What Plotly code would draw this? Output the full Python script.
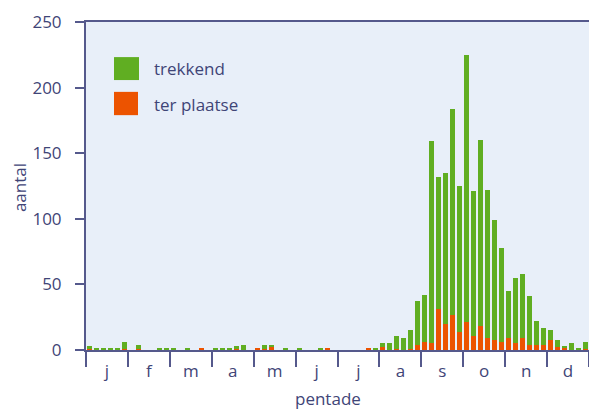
import plotly.graph_objects as go

months = ["j", "f", "m", "a", "m", "j", "j", "a", "s", "o", "n", "d"]

# 72 pentades (6 per month)
trekkend = [
    2, 1, 1, 1, 1, 5,        # jan
    0, 3, 0, 0, 1, 1,        # feb
    1, 0, 1, 0, 0, 0,        # mar
    1, 1, 1, 2, 4, 0,        # apr
    0, 3, 1, 0, 1, 0,        # may
    1, 0, 0, 1, 0, 0,        # jun
    0, 0, 0, 0, 0, 1,        # jul
    3, 5, 10, 9, 14, 33,     # aug
    36, 154, 101, 115, 157, 111,  # sep
    204, 110, 142, 113, 91, 72,   # oct
    36, 50, 49, 37, 18, 13,  # nov
    7, 6, 1, 5, 1, 5,        # dec
]
ter_plaatse = [
    1, 0, 0, 0, 0, 1,
    0, 1, 0, 0, 0, 0,
    0, 0, 0, 0, 1, 0,
    0, 0, 0, 1, 0, 0,
    1, 1, 3, 0, 0, 0,
    0, 0, 0, 0, 1, 0,
    0, 0, 0, 0, 1, 0,
    2, 0, 1, 0, 1, 4,
    6, 5, 31, 20, 27, 14,
    21, 11, 18, 9, 8, 6,
    9, 5, 9, 4, 4, 4,
    8, 2, 2, 0, 0, 1,
]

pentades = list(range(72))
green = "#60AE22"
orange = "#EC5300"
txt = "#3F4577"
axc = "#55598C"
font = "Open Sans, Noto Sans, sans-serif"
fs = 17

fig = go.Figure()
fig.add_trace(go.Bar(x=pentades, y=ter_plaatse, marker_color=orange, width=0.72,
                     marker_line_width=0, showlegend=False, name="ter plaatse"))
fig.add_trace(go.Bar(x=pentades, y=trekkend, marker_color=green, width=0.72,
                     marker_line_width=0, showlegend=False, name="trekkend"))

month_centers = [6 * i + 2.5 for i in range(12)]
month_bounds = [6 * i - 0.5 for i in range(13)]

fig.update_layout(
    width=589, height=410,
    margin=dict(l=86, r=0, t=22, b=60),
    barmode="stack",
    bargap=0,
    plot_bgcolor="#E8EFF9",
    paper_bgcolor="white",
    font=dict(family=font, size=fs, color=txt),
    xaxis=dict(
        automargin=False,
        range=[-0.5, 71.5],
        tickmode="array", tickvals=month_centers, ticktext=months,
        ticks="outside", ticklen=5, tickcolor="rgba(0,0,0,0)",
        showline=True, linecolor=axc, linewidth=2, mirror=True,
        showgrid=False, zeroline=False,
        minor=dict(tickmode="array", tickvals=month_bounds, ticks="outside",
                   ticklen=15, tickwidth=2, tickcolor=axc, showgrid=False),
        tickfont=dict(size=fs, color=txt),
    ),
    yaxis=dict(
        automargin=False,
        range=[0, 250], tickmode="array", tickvals=[0, 50, 100, 150, 200, 250],
        ticks="outside", ticklen=9, tickwidth=2, tickcolor=axc,
        showline=True, linecolor=axc, linewidth=2,
        showgrid=False, zeroline=False,
        ticklabelstandoff=10,
        tickfont=dict(size=fs, color=txt),
    ),
    shapes=[
        dict(type="rect", xref="paper", yref="paper", x0=0.0557, x1=0.1054,
             y0=0.823, y1=0.893, fillcolor=green, line_width=0),
        dict(type="rect", xref="paper", yref="paper", x0=0.0557, x1=0.1034,
             y0=0.716, y1=0.787, fillcolor=orange, line_width=0),
    ],
    annotations=[
        dict(text="trekkend", xref="paper", yref="paper", x=0.131, y=0.857,
             xanchor="left", yanchor="middle", showarrow=False,
             font=dict(size=fs, color=txt)),
        dict(text="ter plaatse", xref="paper", yref="paper", x=0.131, y=0.750,
             xanchor="left", yanchor="middle", showarrow=False,
             font=dict(size=fs, color=txt)),
        dict(text="pentade", xref="paper", yref="paper", x=0.481, y=-0.149,
             xanchor="center", yanchor="middle", showarrow=False,
             font=dict(size=fs, color=txt)),
        dict(text="aantal", xref="paper", yref="paper", x=-0.131, y=0.494,
             xanchor="center", yanchor="middle", textangle=-90, showarrow=False,
             font=dict(size=fs, color=txt)),
    ],
)

fig.write_html("out.html", config={"displayModeBar": False},
               post_script="document.body.style.margin='0';")
